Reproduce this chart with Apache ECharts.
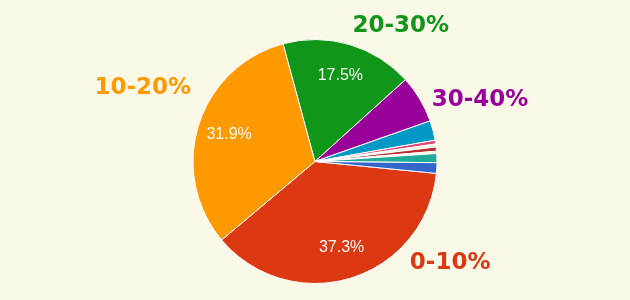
<!DOCTYPE html>
<html>
<head>
<meta charset="utf-8">
<script src="https://cdn.jsdelivr.net/npm/echarts@6/dist/echarts.min.js"></script>
<style>
html,body{margin:0;padding:0;background:#FAF8E6;}
#c{width:630px;height:300px;}
</style>
</head>
<body>
<div id="c"></div>
<script>
// Data (clockwise from just below 3 o'clock)
const categories = ['0-10%', '10-20%', '20-30%', '30-40%', '40-50%', '50-60%', '60-70%', '70-80%', '80-90%', '90-100%', '100%'];
const values = [37.3, 31.9, 17.5, 6.3, 2.6, 0.5, 0.4, 0.55, 0.3, 1.2, 1.4];
const colors = ['#DC3912', '#FF9900', '#109618', '#990099', '#0099C6', '#DD4477', '#F6F3DC', '#B82E2E', '#F6F3DC', '#22AA99', '#3366CC'];
const outsideLabelled = ['0-10%', '10-20%', '20-30%', '30-40%'];
const insideLabelled = ['0-10%', '10-20%', '20-30%'];

// label placement (style), polar around pie centre: [radius px, angle deg clockwise from 3 o'clock]
const outsidePlacement = {
  '0-10%': [169, 36.9],
  '10-20%': [187, 203],
  '20-30%': [160, -57.6],
  '30-40%': [176, -20.4]
};

const cx = 315, cy = 161.5, R = 122;
const chart = echarts.init(document.getElementById('c'), null, {renderer: 'canvas'});

const mainData = categories.map((n, i) => ({
  name: n, value: values[i],
  itemStyle: {color: colors[i]},
  label: {show: outsideLabelled.includes(n), color: colors[i]}
}));
const innerData = categories.map((n, i) => ({
  name: n, value: values[i],
  label: {show: insideLabelled.includes(n)}
}));

chart.setOption({
  backgroundColor: '#FAF8E6',
  animation: false,
  series: [
    {
      type: 'pie',
      center: [cx, cy],
      radius: [0, R],
      startAngle: -5.6,
      clockwise: true,
      avoidLabelOverlap: false,
      itemStyle: {borderColor: '#ffffff', borderWidth: 1},
      label: {
        position: 'outside',
        formatter: '{b}',
        fontFamily: 'DejaVu Sans',
        fontWeight: 'bold',
        fontSize: 23
      },
      labelLine: {show: false},
      labelLayout: function (p) {
        const name = categories[p.dataIndex];
        const pl = outsidePlacement[name];
        if (!pl) return {};
        const a = pl[1] * Math.PI / 180;
        return {x: cx + pl[0] * Math.cos(a), y: cy + pl[0] * Math.sin(a), align: 'center', verticalAlign: 'middle'};
      },
      data: mainData,
      silent: true
    },
    {
      type: 'pie',
      center: [cx, cy],
      radius: [0, 174],
      startAngle: -5.6,
      clockwise: true,
      avoidLabelOverlap: false,
      itemStyle: {color: 'rgba(0,0,0,0)'},
      label: {
        position: 'inside',
        formatter: function (p) { return values[p.dataIndex].toFixed(1) + '%'; },
        fontFamily: 'Liberation Sans, Arial',
        fontSize: 16,
        color: '#fbfbf5'
      },
      labelLine: {show: false},
      data: innerData,
      silent: true,
      z: 3
    }
  ]
});
</script>
</body>
</html>
